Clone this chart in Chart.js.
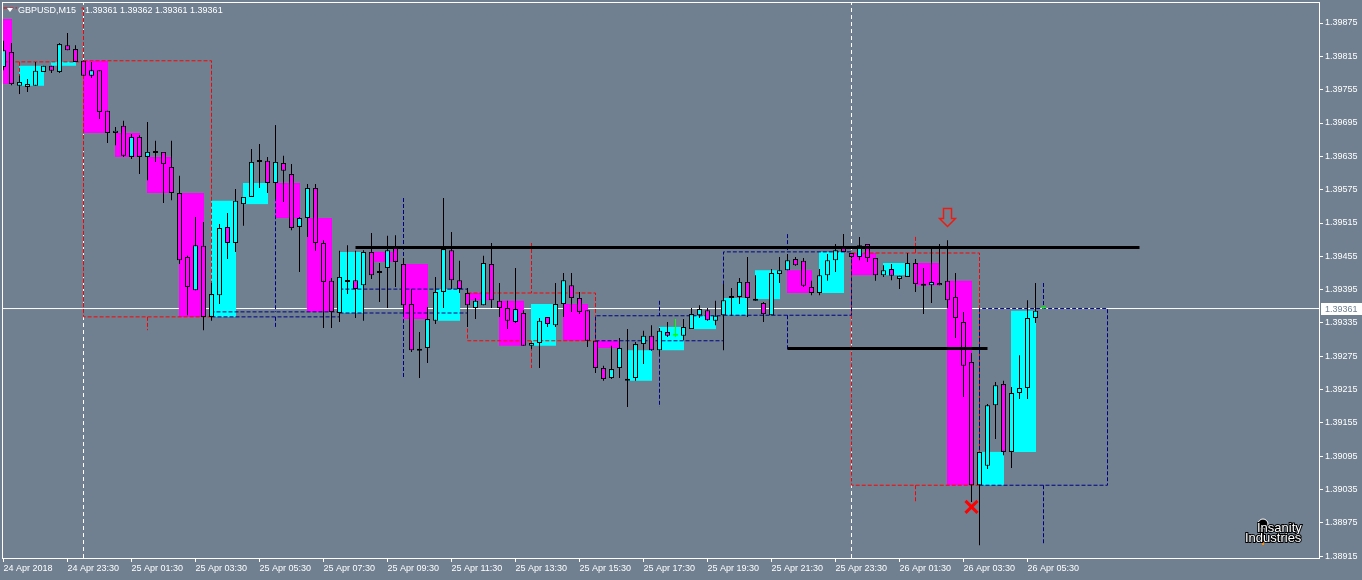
<!DOCTYPE html>
<html>
<head>
<meta charset="utf-8">
<title>GBPUSD,M15</title>
<script src="https://cdn.jsdelivr.net/npm/chart.js@4.4.1/dist/chart.umd.min.js"></script>
<style>
  html, body { margin: 0; padding: 0; background: #708090; }
  canvas { display: block; }
</style>
</head>
<body>
<canvas id="priceChart" width="1362" height="580"></canvas>
<script>
// GBPUSD M15 bars, 24 Apr 2018 21:30 -> 26 Apr 2018 06:00 (one bar per index)
const opens = [
  1.39796, 1.39823, 1.39762, 1.39760, 1.39762, 1.39787, 1.39798, 1.39787, 1.39835, 1.39828,
  1.39807, 1.39780, 1.39790, 1.39717, 1.39677, 1.39690, 1.39634, 1.39670, 1.39634, 1.39643,
  1.39643, 1.39616, 1.39569, 1.39454, 1.39394, 1.39474, 1.39346, 1.39385, 1.39508, 1.39479,
  1.39549, 1.39562, 1.39625, 1.39627, 1.39587, 1.39623, 1.39603, 1.39508, 1.39524, 1.39578,
  1.39479, 1.39411, 1.39353, 1.39411, 1.39412, 1.39403, 1.39463, 1.39427, 1.39434, 1.39472,
  1.39441, 1.39369, 1.39288, 1.39290, 1.39339, 1.39391, 1.39466, 1.39412, 1.39389, 1.39362,
  1.39367, 1.39441, 1.39375, 1.39362, 1.39337, 1.39353, 1.39294, 1.39299, 1.39346, 1.39331,
  1.39369, 1.39403, 1.39380, 1.39358, 1.39303, 1.39254, 1.39236, 1.39254, 1.39231, 1.39236,
  1.39297, 1.39312, 1.39286, 1.39319, 1.39312, 1.39312, 1.39324, 1.39349, 1.39358, 1.39339,
  1.39349, 1.39382, 1.39382, 1.39409, 1.39378, 1.39371, 1.39349, 1.39423, 1.39430, 1.39450,
  1.39447, 1.39400, 1.39389, 1.39421, 1.39448, 1.39472, 1.39461, 1.39454, 1.39477, 1.39452,
  1.39421, 1.39432, 1.39414, 1.39418, 1.39443, 1.39405, 1.39403, 1.39407, 1.39411, 1.39382,
  1.39337, 1.39265, 1.39043, 1.39078, 1.39187, 1.39225, 1.39103, 1.39209, 1.39218, 1.39344,
  1.39361
];
const highs = [
  1.39843, 1.39839, 1.39780, 1.39774, 1.39805, 1.39798, 1.39798, 1.39839, 1.39857, 1.39835,
  1.39807, 1.39805, 1.39790, 1.39717, 1.39688, 1.39699, 1.39675, 1.39673, 1.39697, 1.39663,
  1.39643, 1.39663, 1.39600, 1.39456, 1.39526, 1.39517, 1.39407, 1.39513, 1.39533, 1.39576,
  1.39562, 1.39648, 1.39657, 1.39634, 1.39691, 1.39636, 1.39621, 1.39526, 1.39585, 1.39585,
  1.39484, 1.39416, 1.39465, 1.39475, 1.39465, 1.39466, 1.39497, 1.39443, 1.39492, 1.39493,
  1.39452, 1.39396, 1.39319, 1.39364, 1.39418, 1.39560, 1.39499, 1.39447, 1.39398, 1.39380,
  1.39456, 1.39479, 1.39407, 1.39375, 1.39434, 1.39358, 1.39299, 1.39344, 1.39346, 1.39407,
  1.39425, 1.39425, 1.39391, 1.39358, 1.39303, 1.39258, 1.39294, 1.39308, 1.39324, 1.39301,
  1.39321, 1.39331, 1.39326, 1.39337, 1.39342, 1.39342, 1.39362, 1.39367, 1.39362, 1.39375,
  1.39405, 1.39398, 1.39416, 1.39454, 1.39421, 1.39373, 1.39432, 1.39454, 1.39459, 1.39454,
  1.39452, 1.39411, 1.39432, 1.39459, 1.39477, 1.39495, 1.39461, 1.39490, 1.39477, 1.39452,
  1.39439, 1.39441, 1.39420, 1.39461, 1.39450, 1.39434, 1.39470, 1.39477, 1.39484, 1.39425,
  1.39355, 1.39281, 1.39083, 1.39189, 1.39229, 1.39231, 1.39220, 1.39277, 1.39376, 1.39407,
  1.39362
];
const lows = [
  1.39790, 1.39763, 1.39747, 1.39751, 1.39762, 1.39787, 1.39785, 1.39785, 1.39826, 1.39805,
  1.39780, 1.39776, 1.39702, 1.39659, 1.39655, 1.39634, 1.39630, 1.39603, 1.39592, 1.39625,
  1.39551, 1.39556, 1.39441, 1.39349, 1.39394, 1.39322, 1.39339, 1.39369, 1.39450, 1.39463,
  1.39510, 1.39562, 1.39578, 1.39569, 1.39558, 1.39553, 1.39502, 1.39427, 1.39490, 1.39465,
  1.39326, 1.39326, 1.39337, 1.39387, 1.39344, 1.39339, 1.39414, 1.39373, 1.39362, 1.39400,
  1.39351, 1.39283, 1.39236, 1.39263, 1.39333, 1.39362, 1.39396, 1.39389, 1.39328, 1.39342,
  1.39367, 1.39362, 1.39346, 1.39324, 1.39335, 1.39294, 1.39288, 1.39254, 1.39328, 1.39328,
  1.39346, 1.39355, 1.39351, 1.39292, 1.39245, 1.39231, 1.39234, 1.39236, 1.39184, 1.39231,
  1.39261, 1.39285, 1.39277, 1.39310, 1.39310, 1.39304, 1.39324, 1.39344, 1.39339, 1.39331,
  1.39286, 1.39348, 1.39369, 1.39346, 1.39375, 1.39337, 1.39349, 1.39407, 1.39430, 1.39438,
  1.39400, 1.39385, 1.39385, 1.39411, 1.39427, 1.39463, 1.39452, 1.39448, 1.39445, 1.39411,
  1.39418, 1.39412, 1.39396, 1.39418, 1.39391, 1.39351, 1.39371, 1.39403, 1.39362, 1.39308,
  1.39202, 1.39013, 1.38935, 1.39072, 1.39126, 1.39097, 1.39074, 1.39198, 1.39198, 1.39335,
  1.39361
];
const closes = [
  1.39826, 1.39765, 1.39769, 1.39765, 1.39789, 1.39798, 1.39789, 1.39837, 1.39826, 1.39805,
  1.39780, 1.39790, 1.39715, 1.39677, 1.39681, 1.39636, 1.39670, 1.39634, 1.39643, 1.39641,
  1.39621, 1.39569, 1.39448, 1.39400, 1.39475, 1.39346, 1.39387, 1.39506, 1.39479, 1.39555,
  1.39562, 1.39625, 1.39628, 1.39587, 1.39625, 1.39609, 1.39506, 1.39524, 1.39578, 1.39479,
  1.39409, 1.39355, 1.39418, 1.39409, 1.39396, 1.39463, 1.39421, 1.39425, 1.39466, 1.39445,
  1.39367, 1.39286, 1.39285, 1.39342, 1.39391, 1.39468, 1.39412, 1.39396, 1.39367, 1.39375,
  1.39443, 1.39376, 1.39362, 1.39339, 1.39360, 1.39294, 1.39299, 1.39339, 1.39333, 1.39369,
  1.39412, 1.39380, 1.39355, 1.39303, 1.39254, 1.39234, 1.39252, 1.39290, 1.39234, 1.39297,
  1.39312, 1.39286, 1.39321, 1.39312, 1.39312, 1.39328, 1.39351, 1.39360, 1.39340, 1.39348,
  1.39376, 1.39380, 1.39409, 1.39380, 1.39375, 1.39351, 1.39425, 1.39430, 1.39448, 1.39439,
  1.39402, 1.39389, 1.39421, 1.39448, 1.39466, 1.39463, 1.39454, 1.39475, 1.39452, 1.39421,
  1.39430, 1.39420, 1.39420, 1.39443, 1.39405, 1.39402, 1.39409, 1.39403, 1.39376, 1.39344,
  1.39258, 1.39043, 1.39103, 1.39187, 1.39223, 1.39103, 1.39209, 1.39218, 1.39344, 1.39357,
  1.39361
];

// values of the H1 / H4 candles that started left of the window
const priorH1Open = 1.39882;
const priorH4Open = 1.39902;
const priorH4High = 1.39930;

const timeLabels = [
  "24 Apr 2018", "24 Apr 23:30", "25 Apr 01:30", "25 Apr 03:30", "25 Apr 05:30",
  "25 Apr 07:30", "25 Apr 09:30", "25 Apr 11:30", "25 Apr 13:30", "25 Apr 15:30",
  "25 Apr 17:30", "25 Apr 19:30", "25 Apr 21:30", "25 Apr 23:30", "26 Apr 01:30",
  "26 Apr 03:30", "26 Apr 05:30"
];
const priceTicks = [
  1.38915, 1.38975, 1.39035, 1.39095, 1.39155, 1.39215, 1.39275, 1.39335, 1.39395,
  1.39455, 1.39515, 1.39575, 1.39635, 1.39695, 1.39755, 1.39815, 1.39875
];
const daySeparators = [10, 106];        // bars at 00:00
const levelPrices = [1.39471, 1.39289];
const levelFrom = [44, 98];
const levelTo = [142, 123];
const arrowBar = [118], arrowPrice = [1.39525];
const crossBar = [121], crossPrice = [1.39004];

const BARS_PER_LABEL = 8;
const X_MIN = -0.0625, X_MAX = 164.4375;
const Y_MIN = 1.38912, Y_MAX = 1.39911;

const CYAN = "#00ffff", MAGENTA = "#ff00ff", LIME = "#00ff00";
const NAVY = "#000080", RED = "#ff0000", SLATE = "#708090";
const FONT = '"Liberation Sans", Arial, sans-serif';

const last = opens.length - 1;

// build higher timeframe candles from the M15 bars
function aggregate(first, size, priorOpen, priorHigh){
  const out = [];
  for(let s = first - size; s < opens.length; s += size){
    let o = null, h = -Infinity, l = Infinity, c = null;
    for(let k = Math.max(s,0); k < Math.min(s+size, opens.length); k++){
      if(o === null) o = opens[k];
      h = Math.max(h, highs[k]);
      l = Math.min(l, lows[k]);
      c = closes[k];
    }
    if(s < 0){
      o = priorOpen;
      if(priorHigh !== null) h = Math.max(h, priorHigh);
    }
    out.push({start:s, size:size, o:o, h:h, l:l, c:c});
  }
  return out;
}

const hourBars = aggregate(2, 4, priorH1Open, null);
const fourHourBars = aggregate(10, 16, priorH4Open, priorH4High);

function outline(bars, bull){
  const pts = [];
  bars.filter(b => (b.c >= b.o) === bull).forEach(b => {
    const x0 = b.start, x1 = b.start + b.size, xm = b.start + b.size/2;
    const top = Math.max(b.o,b.c), bot = Math.min(b.o,b.c);
    pts.push({x:x0,y:b.o},{x:x1,y:b.o},{x:x1,y:b.c},{x:x0,y:b.c},{x:x0,y:b.o},{x:x0,y:null});
    pts.push({x:xm,y:b.h},{x:xm,y:top},{x:xm,y:null});
    pts.push({x:xm,y:bot},{x:xm,y:b.l},{x:xm,y:null});
  });
  return pts;
}

function candleColor(k){
  if(closes[k] === opens[k]) return LIME;
  return closes[k] > opens[k] ? CYAN : MAGENTA;
}

const separatorPts = [];
daySeparators.forEach(k => separatorPts.push({x:k,y:Y_MIN},{x:k,y:Y_MAX},{x:k,y:null}));

const levelPts = [];
levelPrices.forEach((p,i) => levelPts.push({x:levelFrom[i],y:p},{x:levelTo[i],y:p},{x:levelTo[i],y:null}));

// hollow down arrow used as point style
function makeArrow(){
  const c = document.createElement("canvas");
  c.width = 19; c.height = 21;
  const g = c.getContext("2d");
  g.beginPath();
  g.moveTo(5.5,1.5); g.lineTo(13.5,1.5); g.lineTo(13.5,11.5); g.lineTo(17.5,11.5);
  g.lineTo(9.5,19.5); g.lineTo(1.5,11.5); g.lineTo(5.5,11.5); g.closePath();
  g.fillStyle = SLATE; g.fill();
  g.strokeStyle = "#ee1c10"; g.lineWidth = 1.5; g.stroke();
  return c;
}

const idx = opens.map((_,k) => k);

const overlay = {
  id: "overlay",
  afterDraw(chart){
    const ctx = chart.ctx;
    const a = chart.chartArea;
    const y = chart.scales.y;
    ctx.save();

    // frame
    ctx.strokeStyle = "#fff";
    ctx.lineWidth = 1;
    ctx.strokeRect(a.left - 0.5, a.top - 0.5, a.right - a.left + 1, a.bottom - a.top + 1);

    // current price tag
    const py = Math.round(y.getPixelForValue(closes[last]));
    ctx.fillStyle = "#fff";
    ctx.fillRect(a.right + 2, py - 6, 60, 12);
    ctx.fillStyle = SLATE;
    ctx.font = "9px " + FONT;
    ctx.textBaseline = "middle";
    ctx.textAlign = "left";
    ctx.fillText(closes[last].toFixed(5), a.right + 6, py + 0.5);

    // title
    ctx.fillStyle = SLATE;
    ctx.fillRect(17, 4, 63, 12);
    ctx.fillRect(85, 4, 141, 12);
    ctx.fillStyle = "#fff";
    ctx.beginPath();
    ctx.moveTo(7,8); ctx.lineTo(13,8); ctx.lineTo(10,12); ctx.closePath(); ctx.fill();
    ctx.fillText("GBPUSD,M15", 18, 10.5);
    const ohlc = [opens[last], highs[last], lows[last], closes[last]].map(v => v.toFixed(5)).join(" ");
    ctx.fillText(ohlc, 85, 10.5);

    // logo
    ctx.fillStyle = "#000";
    ctx.beginPath(); ctx.arc(1263, 524, 5, 0, Math.PI*2); ctx.fill();
    ctx.strokeStyle = "#fff"; ctx.stroke();
    ctx.fillRect(1262, 529, 2, 14);
    ctx.fillStyle = "#ff8c00"; ctx.fillRect(1262, 542, 2, 3);
    ctx.font = "13px " + FONT;
    ctx.textBaseline = "alphabetic";
    ctx.lineWidth = 2; ctx.strokeStyle = "#000"; ctx.fillStyle = "#fff";
    ctx.strokeText("Insanity", 1257, 532); ctx.fillText("Insanity", 1257, 532);
    ctx.strokeText("Industries", 1245, 542); ctx.fillText("Industries", 1245, 542);
    ctx.restore();
  }
};

const ctx = document.getElementById("priceChart");

const priceChart = new Chart(ctx,{
  type:"bar",
  data:{
    datasets:[
      {
        type:"line", label:"days", order:10,
        data:separatorPts, borderColor:"#fff", borderWidth:1, borderDash:[4,3],
        pointRadius:0, spanGaps:false
      },
      {
        type:"line", label:"bid", order:9,
        data:[{x:X_MIN,y:closes[last]},{x:X_MAX,y:closes[last]}],
        borderColor:"#fff", borderWidth:1, pointRadius:0
      },
      {
        label:"H1", order:8, grouped:false, barThickness:25, inflateAmount:0, borderWidth:0,
        data:hourBars.map(b => ({x:b.start + 1.5, y:[b.o, b.c]})),
        backgroundColor:hourBars.map(b => b.c >= b.o ? CYAN : MAGENTA)
      },
      {
        type:"line", label:"H4 up", order:7,
        data:outline(fourHourBars, true), borderColor:NAVY, borderWidth:1, borderDash:[4,2],
        pointRadius:0, spanGaps:false
      },
      {
        type:"line", label:"H4 down", order:7,
        data:outline(fourHourBars, false), borderColor:RED, borderWidth:1, borderDash:[4,2],
        pointRadius:0, spanGaps:false
      },
      {
        label:"wicks", order:6, grouped:false, barThickness:1, inflateAmount:0, borderWidth:0,
        data:idx.map(k => ({x:k, y:[lows[k], highs[k]]})),
        backgroundColor:idx.map(k => closes[k] === opens[k] ? LIME : "#000")
      },
      {
        label:"bodies", order:5, grouped:false, barThickness:5, inflateAmount:0,
        borderWidth:1, borderSkipped:false, minBarLength:2,
        data:idx.map(k => ({x:k, y:[opens[k], closes[k]]})),
        backgroundColor:idx.map(candleColor),
        borderColor:idx.map(k => closes[k] === opens[k] ? LIME : "#000")
      },
      {
        type:"line", label:"levels", order:4,
        data:levelPts, borderColor:"#000", borderWidth:3, pointRadius:0, spanGaps:false
      },
      {
        type:"line", label:"sell", order:3, showLine:false,
        data:arrowBar.map((k,i) => ({x:k, y:arrowPrice[i]})),
        pointStyle:makeArrow(), pointRadius:10
      },
      {
        type:"line", label:"stop", order:3, showLine:false,
        data:crossBar.map((k,i) => ({x:k, y:crossPrice[i]})),
        pointStyle:"crossRot", pointRadius:8.5, pointBorderWidth:3,
        pointBorderColor:RED, pointBackgroundColor:RED
      }
    ]
  },

  options:{
    responsive:false,
    animation:false,
    devicePixelRatio:1,
    events:[],
    layout:{ autoPadding:false, padding:{ left:3, top:3, right:0, bottom:0 } },

    plugins:{
      legend:{ display:false },
      tooltip:{ enabled:false }
    },

    scales:{
      x:{
        type:"linear", min:X_MIN, max:X_MAX, offset:false,
        afterFit:(s) => { s.height = 22; s.paddingLeft = 0; s.paddingRight = 0; },
        afterBuildTicks:(s) => { s.ticks = timeLabels.map((t,i) => ({value:i*BARS_PER_LABEL})); },
        ticks:{
          autoSkip:false, maxRotation:0, minRotation:0, align:"start", padding:1,
          color:"#fff", font:{ family:FONT, size:9 },
          callback:(v,i) => timeLabels[i]
        },
        grid:{ display:true, drawOnChartArea:false, tickLength:4, color:"#fff", offset:false },
        border:{ display:true, color:"#fff" }
      },
      y:{
        type:"linear", position:"right", min:Y_MIN, max:Y_MAX,
        afterFit:(s) => { s.width = 43; s.paddingTop = 0; s.paddingBottom = 0; },
        afterBuildTicks:(s) => { s.ticks = priceTicks.map(v => ({value:v})); },
        ticks:{
          padding:2, color:"#fff", font:{ family:FONT, size:9 },
          callback:(v) => Number(v).toFixed(5)
        },
        grid:{ display:true, drawOnChartArea:false, tickLength:4, color:"#fff" },
        border:{ display:true, color:"#fff" }
      }
    }
  },
  plugins:[overlay]
});
</script>
</body>
</html>
